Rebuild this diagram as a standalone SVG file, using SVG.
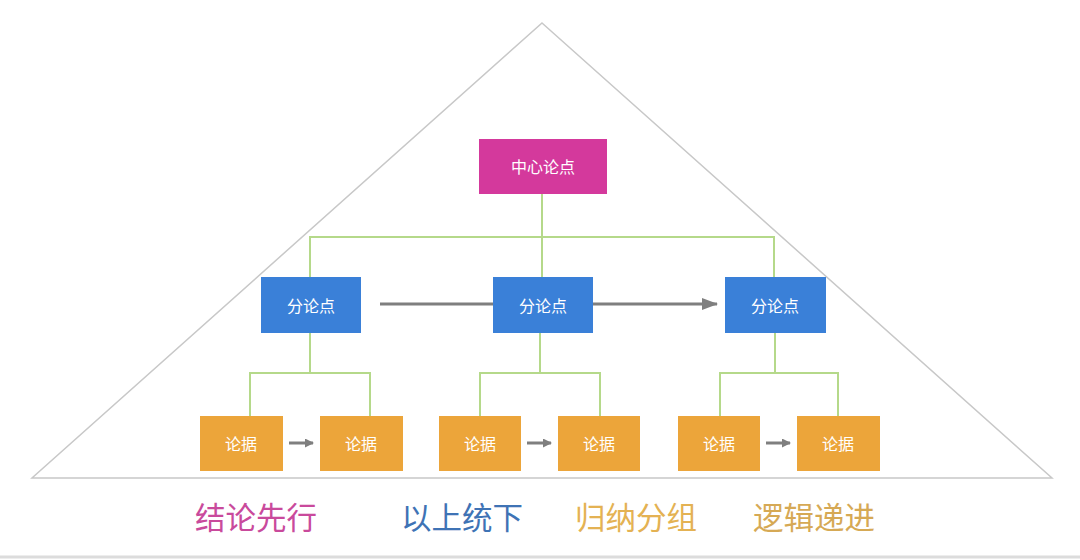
<svg xmlns="http://www.w3.org/2000/svg" width="1080" height="560" viewBox="0 0 1080 560">
<defs>
<marker id="ah" markerWidth="9" markerHeight="9" refX="8" refY="4.5" orient="auto" markerUnits="userSpaceOnUse">
<path d="M0,0 L9,4.5 L0,9 Z" fill="#7f7f7f"/>
</marker>
<marker id="ahb" markerWidth="16" markerHeight="12" refX="15" refY="6" orient="auto" markerUnits="userSpaceOnUse">
<path d="M0,0 L16,6 L0,12 Z" fill="#7f7f7f"/>
</marker>
<style>
.t{font-family:"Noto Sans CJK SC","Noto Sans",sans-serif;font-size:16px;fill:#ffffff;text-anchor:middle;dominant-baseline:central}
.b{font-family:"Noto Sans CJK SC","Noto Sans",sans-serif;font-size:30.5px;text-anchor:middle;dominant-baseline:central}
.g{stroke:#b5d98a;stroke-width:2;fill:none}
.a{stroke:#7f7f7f;stroke-width:3;fill:none}
.main{fill:#d4399c}
.sub{fill:#3a80d8}
.leaf{fill:#eca53a}
</style>
</defs>
<rect width="1080" height="560" fill="#ffffff"/>
<path d="M542,23 L1052,478 L32,478 Z" fill="none" stroke="#c8c8c8" stroke-width="1.5"/>
<line x1="0" y1="557" x2="1080" y2="557" stroke="#dcdcdc" stroke-width="3"/>
<g id="connectors">
<path class="g" d="M542,194 V237 M310,277 V237 H774 V277 M542,237 V277"/>
<path class="g" d="M310,333 V373 M250,416 V373 H370 V416"/>
<path class="g" d="M540,333 V373 M480,416 V373 H600 V416"/>
<path class="g" d="M775,333 V373 M720,416 V373 H838 V416"/>
<line class="a" x1="380" y1="304" x2="493" y2="304"/>
<line class="a" x1="593" y1="304" x2="717" y2="304" marker-end="url(#ahb)"/>
<line class="a" x1="289" y1="443" x2="313" y2="443" marker-end="url(#ah)"/>
<line class="a" x1="527" y1="443" x2="551" y2="443" marker-end="url(#ah)"/>
<line class="a" x1="766" y1="443" x2="790" y2="443" marker-end="url(#ah)"/>
</g>
<g id="n-main"><rect class="main" x="479" y="139" width="128" height="55"/><text class="t" x="543" y="166">中心论点</text></g>
<g id="n-sub1"><rect class="sub" x="261" y="277" width="100" height="56"/><text class="t" x="311" y="305">分论点</text></g>
<g id="n-sub2"><rect class="sub" x="493" y="277" width="100" height="56"/><text class="t" x="543" y="305">分论点</text></g>
<g id="n-sub3"><rect class="sub" x="725" y="277" width="101" height="56"/><text class="t" x="775" y="305">分论点</text></g>
<g id="n-l1"><rect class="leaf" x="200" y="416" width="83" height="55"/><text class="t" x="241" y="443">论据</text></g>
<g id="n-l2"><rect class="leaf" x="320" y="416" width="83" height="55"/><text class="t" x="361" y="443">论据</text></g>
<g id="n-l3"><rect class="leaf" x="439" y="416" width="82" height="55"/><text class="t" x="480" y="443">论据</text></g>
<g id="n-l4"><rect class="leaf" x="558" y="416" width="82" height="55"/><text class="t" x="599" y="443">论据</text></g>
<g id="n-l5"><rect class="leaf" x="678" y="416" width="82" height="55"/><text class="t" x="719" y="443">论据</text></g>
<g id="n-l6"><rect class="leaf" x="797" y="416" width="83" height="55"/><text class="t" x="838" y="443">论据</text></g>
<g id="labels">
<text class="b" x="256" y="516" fill="#c94a9c">结论先行</text>
<text class="b" x="462" y="516" fill="#3f73b5">以上统下</text>
<text class="b" x="636" y="516" fill="#e4b253">归纳分组</text>
<text class="b" x="814" y="516" fill="#d6a955">逻辑递进</text>
</g>
</svg>
